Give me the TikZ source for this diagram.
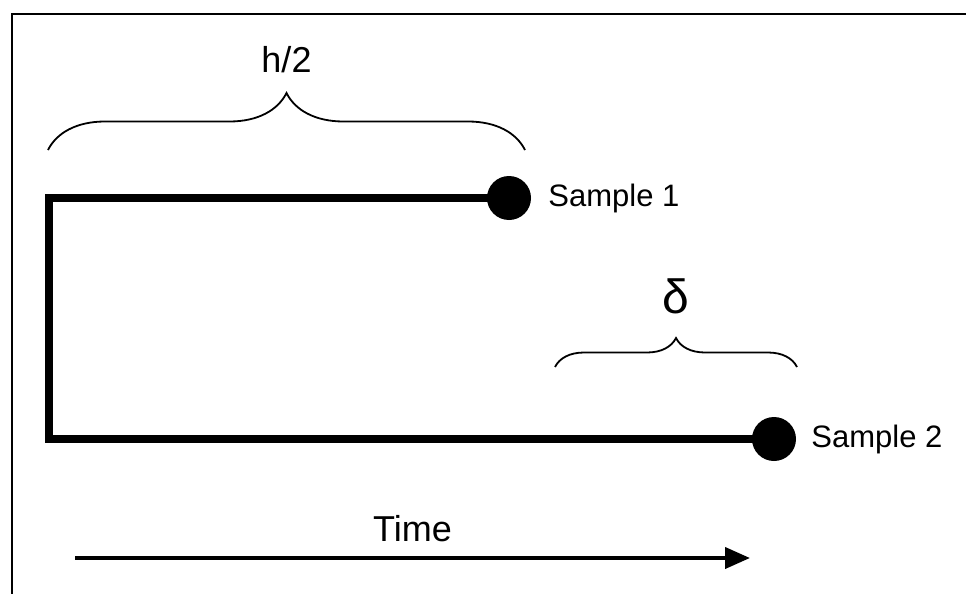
\documentclass[tikz,border=0pt]{standalone}
\usepackage{fontspec}
\setmainfont{Liberation Sans}
\usetikzlibrary{arrows.meta,positioning,decorations.pathreplacing}

\begin{document}
\begin{tikzpicture}[x=1pt, y=-1pt, frame/.style={line width=1.5pt}, track/.style={line width=7.5pt, line join=miter}, sample/.style={circle,fill=black,minimum size=44pt,inner sep=0pt}, slabel/.style={inner sep=0pt,font=\fontsize{31}{36}\selectfont}, brc/.style={decorate,decoration={brace,amplitude=#1},line width=1.8pt}, line/.style={-{Triangle[length=25pt,width=21pt]},line width=4pt}]
\useasboundingbox (0,0) rectangle (966,594);
\draw[frame] (12,594) -- (12,14) -- (966,14);
\coordinate (tl) at (49,198);
\coordinate (bl) at (49,439);
\node[sample] (s1) at (509,198) {};
\node[sample] (s2) at (774,439) {};
\node[slabel,right=17pt of s1] (l1) {Sample 1};
\node[slabel,right=15pt of s2] (l2) {Sample 2};
\draw[track] (s1.center) -- (tl) -- (bl) -- (s2.center);
\coordinate (b1l) at (48,150);
\coordinate (b1r) at (525,150);
\draw[brc=57pt] (b1l) -- node[midway,anchor=base,yshift=77pt,inner sep=0pt,font=\fontsize{36}{40}\selectfont] (hl) {h/2} (b1r);
\coordinate (b2l) at (555,367);
\coordinate (b2r) at (797,367);
\draw[brc=29pt] (b2l) -- node[midway,anchor=base,yshift=54pt,inner sep=0pt,font=\fontsize{48}{52}\selectfont] (dl) {δ} (b2r);
\coordinate (t0) at (75,558);
\coordinate (t1) at (750,558);
\draw[line] (t0) -- node[midway,anchor=base,yshift=17pt,inner sep=0pt,font=\fontsize{36}{40}\selectfont] (tm) {Time} (t1);
\end{tikzpicture}
\end{document}
